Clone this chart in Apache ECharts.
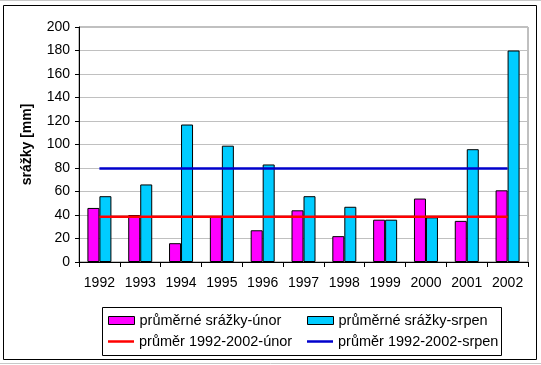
<!DOCTYPE html>
<html><head><meta charset="utf-8">
<script src="https://cdn.jsdelivr.net/npm/echarts@6/dist/echarts.min.js"></script>
<style>html,body{margin:0;padding:0;background:#fff}#c{width:541px;height:365px}</style>
</head><body><div id="c"></div>
<script>
const years = ['1992','1993','1994','1995','1996','1997','1998','1999','2000','2001','2002'];
const unor = [46, 40, 16, 39, 27, 44, 22, 36, 54, 35, 61];
const srpen = [56, 66, 117, 99, 83, 56, 47, 36, 38, 96, 180];
const prumerUnor = [38.6, 38.6, 38.6, 38.6, 38.6, 38.6, 38.6, 38.6, 38.6, 38.6, 38.6];
const prumerSrpen = [79.5, 79.5, 79.5, 79.5, 79.5, 79.5, 79.5, 79.5, 79.5, 79.5, 79.5];
const names = ['průměrné srážky-únor', 'průměrné srážky-srpen', 'průměr 1992-2002-únor', 'průměr 1992-2002-srpen'];

const FONT = 'Liberation Sans';
const chart = echarts.init(document.getElementById('c'), null, {renderer: 'canvas'});
const legTxt = {fontFamily: FONT, fontSize: 14.5, color: '#000'};
function leg(name, left, top, isBar) {
  return {
    data: [{name: name, icon: 'rect', itemStyle: isBar ? {borderColor: '#000', borderWidth: 1} : {}}],
    left: left, top: top, padding: 0, itemGap: 0,
    itemWidth: 26, itemHeight: isBar ? 8 : 2.5,
    textStyle: legTxt, selectedMode: false
  };
}
chart.setOption({
  animation: false,
  backgroundColor: '#fff',
  grid: {left: 79, right: 13, top: 27, bottom: 103, show: true, borderColor: '#808080', borderWidth: 1},
  xAxis: {
    type: 'category', data: years, boundaryGap: true,
    axisLine: {lineStyle: {color: '#000', width: 1}},
    axisTick: {show: true, length: 5, lineStyle: {color: '#000'}},
    axisLabel: {fontFamily: FONT, fontSize: 14, color: '#000', margin: 14},
    splitLine: {show: false}
  },
  yAxis: {
    type: 'value', min: 0, max: 200, interval: 20,
    name: 'srážky [mm]', nameLocation: 'middle', nameGap: 45,
    nameTextStyle: {fontFamily: FONT, fontSize: 14, fontWeight: 'bold', color: '#000'},
    axisLine: {show: true, lineStyle: {color: '#000', width: 1}},
    axisTick: {show: true, length: 4, lineStyle: {color: '#000'}},
    axisLabel: {fontFamily: FONT, fontSize: 14, color: '#000', margin: 9},
    splitLine: {show: true, lineStyle: {color: '#c0c0c0', width: 1}}
  },
  legend: [
    leg(names[0], 108, 313, true),
    leg(names[1], 307, 313, true),
    leg(names[2], 108, 334, false),
    leg(names[3], 307, 334, false)
  ],
  series: [
    {name: names[0], type: 'bar', data: unor, barWidth: 12, barGap: '0%',
     itemStyle: {color: '#ff00ff', borderColor: '#000', borderWidth: 1}, z: 2},
    {name: names[1], type: 'bar', data: srpen, barWidth: 12, barGap: '0%',
     itemStyle: {color: '#00ccff', borderColor: '#000', borderWidth: 1}, z: 2},
    {name: names[2], type: 'line', data: prumerUnor, symbol: 'none', showSymbol: false,
     lineStyle: {color: '#ff0000', width: 2.5}, itemStyle: {color: '#ff0000'}, z: 5},
    {name: names[3], type: 'line', data: prumerSrpen, symbol: 'none', showSymbol: false,
     lineStyle: {color: '#0000cc', width: 2.5}, itemStyle: {color: '#0000cc'}, z: 5}
  ],
  graphic: [
    {type: 'rect', shape: {x: 3.5, y: 5.5, width: 533, height: 354}, style: {fill: null, stroke: '#000', lineWidth: 1}, silent: true},
    {type: 'rect', shape: {x: 102.5, y: 307.5, width: 399, height: 48}, style: {fill: null, stroke: '#000', lineWidth: 1}, silent: true},
    {type: 'line', shape: {x1: 0, y1: 0.5, x2: 541, y2: 0.5}, style: {stroke: '#c8c8c8', lineWidth: 1}, silent: true},
    {type: 'line', shape: {x1: 0, y1: 363.5, x2: 541, y2: 363.5}, style: {stroke: '#c8c8c8', lineWidth: 1}, silent: true}
  ]
});
</script></body></html>
